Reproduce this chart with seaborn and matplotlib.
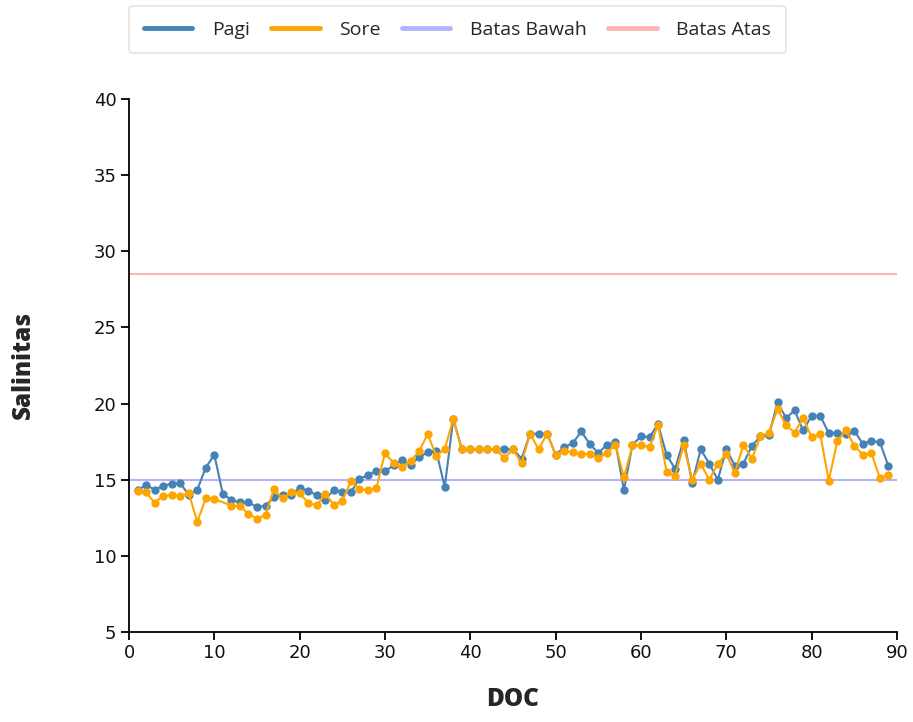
import numpy as np
import pandas as pd
import matplotlib
matplotlib.use("Agg")
import matplotlib.pyplot as plt
from matplotlib.lines import Line2D
import seaborn as sns

doc = list(range(1, 90))

pagi = [14.3, 14.67, 14.34, 14.6, 14.74, 14.78, 14.0, 14.34, 15.8, 16.64,
        14.04, 13.69, 13.51, 13.51, 13.2, 13.29, 13.86, 14.0, 14.0, 14.45,
        14.28, 13.97, 13.69, 14.34, 14.17, 14.17, 15.07, 15.28, 15.59, 15.55,
        15.94, 16.27, 15.98, 16.49, 16.79, 16.9, 14.52, 19.0, 17.0, 17.0,
        17.0, 17.0, 17.0, 17.0, 17.0, 16.38, 18.02, 18.02, 18.02, 16.64,
        17.14, 17.4, 18.17, 17.34, 16.75, 17.3, 17.45, 14.3, 17.3, 17.84,
        17.8, 18.65, 16.62, 15.72, 17.63, 14.78, 17.0, 16.05, 15.0, 17.0,
        15.92, 16.05, 17.23, 17.84, 17.95, 20.08, 19.05, 19.55, 18.24, 19.2,
        19.2, 18.06, 18.06, 18.0, 18.2, 17.36, 17.56, 17.45, 15.88]

sore = [14.23, 14.17, 13.49, 13.95, 13.97, 13.95, 14.12, 12.24, 13.77, 13.73,
        np.nan, 13.3, 13.25, 12.77, 12.44, 12.7, 14.39, 13.77, 14.17, 14.12,
        13.47, 13.32, 14.08, 13.36, 13.62, 14.89, 14.39, 14.3, 14.47, 16.75,
        16.09, 15.81, 16.25, 16.86, 18.0, 16.58, 17.0, 19.0, 17.0, 17.0,
        17.0, 17.0, 17.0, 16.42, 17.0, 16.09, 18.02, 17.0, 18.02, 16.64,
        16.9, 16.79, 16.7, 16.68, 16.42, 16.75, 17.3, 15.17, 17.25, 17.3,
        17.14, 18.6, 15.48, 15.26, 17.25, 15.0, 16.05, 15.0, 16.05, 16.7,
        15.44, 17.3, 16.38, 17.84, 18.1, 19.64, 18.57, 18.1, 19.05, 17.78,
        18.02, 14.93, 17.52, 18.24, 17.23, 16.64, 16.75, 15.1, 15.33]

batas_bawah = 15
batas_atas = 28.5

colors = {"Pagi": "#4682b4", "Sore": "#ffa500"}
c_bawah = "#b3b3ff"
c_atas = "#ffb3b3"

df = pd.DataFrame({
    "DOC": doc * 2,
    "Salinitas": pagi + sore,
    "Waktu": ["Pagi"] * len(doc) + ["Sore"] * len(doc),
}).dropna()

sns.set_style("white")
plt.rcParams["font.family"] = ["DejaVu Sans"]

fig = plt.figure(figsize=(9.13, 7.22), dpi=100)
ax = fig.add_axes([129 / 913, 1 - 632 / 722, 768 / 913, 533 / 722])

ax.axhline(batas_bawah, color=c_bawah, lw=1.5, zorder=1)
ax.axhline(batas_atas, color=c_atas, lw=1.5, zorder=1)

sns.lineplot(data=df, x="DOC", y="Salinitas", hue="Waktu", palette=colors,
             hue_order=["Pagi", "Sore"], marker="o", markersize=6,
             markeredgewidth=0, linewidth=1.5, legend=False, ax=ax,
             zorder=3)

ax.set_xlim(0, 90)
ax.set_ylim(5, 40)
ax.set_xticks(range(0, 91, 10))
ax.set_yticks(range(5, 41, 5))
ax.tick_params(axis="both", labelsize=13, length=6, width=1.3,
               direction="out", color="black", labelcolor="#111111",
               bottom=True, left=True, pad=3)
for side in ["top", "right"]:
    ax.spines[side].set_visible(False)
for side in ["left", "bottom"]:
    ax.spines[side].set_color("black")
    ax.spines[side].set_linewidth(1.3)

ax.set_xlabel("")
ax.set_ylabel("")
fig.text(513 / 913, 1 - 700 / 722, "DOC", ha="center", va="center",
         fontsize=17.5, fontweight=800, family="Open Sans")
fig.text(23 / 913, 1 - 365 / 722, "Salinitas", ha="center", va="center",
         rotation=90, fontsize=17.5, fontweight=800, family="Open Sans")

handles = [Line2D([], [], color=colors["Pagi"], lw=3.5),
           Line2D([], [], color=colors["Sore"], lw=3.5),
           Line2D([], [], color=c_bawah, lw=3.5),
           Line2D([], [], color=c_atas, lw=3.5)]
labels = ["Pagi", "Sore", "Batas Bawah", "Batas Atas"]
leg = fig.legend(handles, labels, ncol=4, loc="upper left",
                 bbox_to_anchor=(129 / 913, 1 - 6 / 722),
                 prop={"family": "Open Sans", "size": 14},
                 handlelength=2.5, handletextpad=1.0, columnspacing=1.1,
                 frameon=True, fancybox=True, borderpad=0.75,
                 borderaxespad=0)
leg.get_frame().set_edgecolor("#dddddd")
leg.get_frame().set_linewidth(1.2)

fig.savefig("out.png", dpi=100)
